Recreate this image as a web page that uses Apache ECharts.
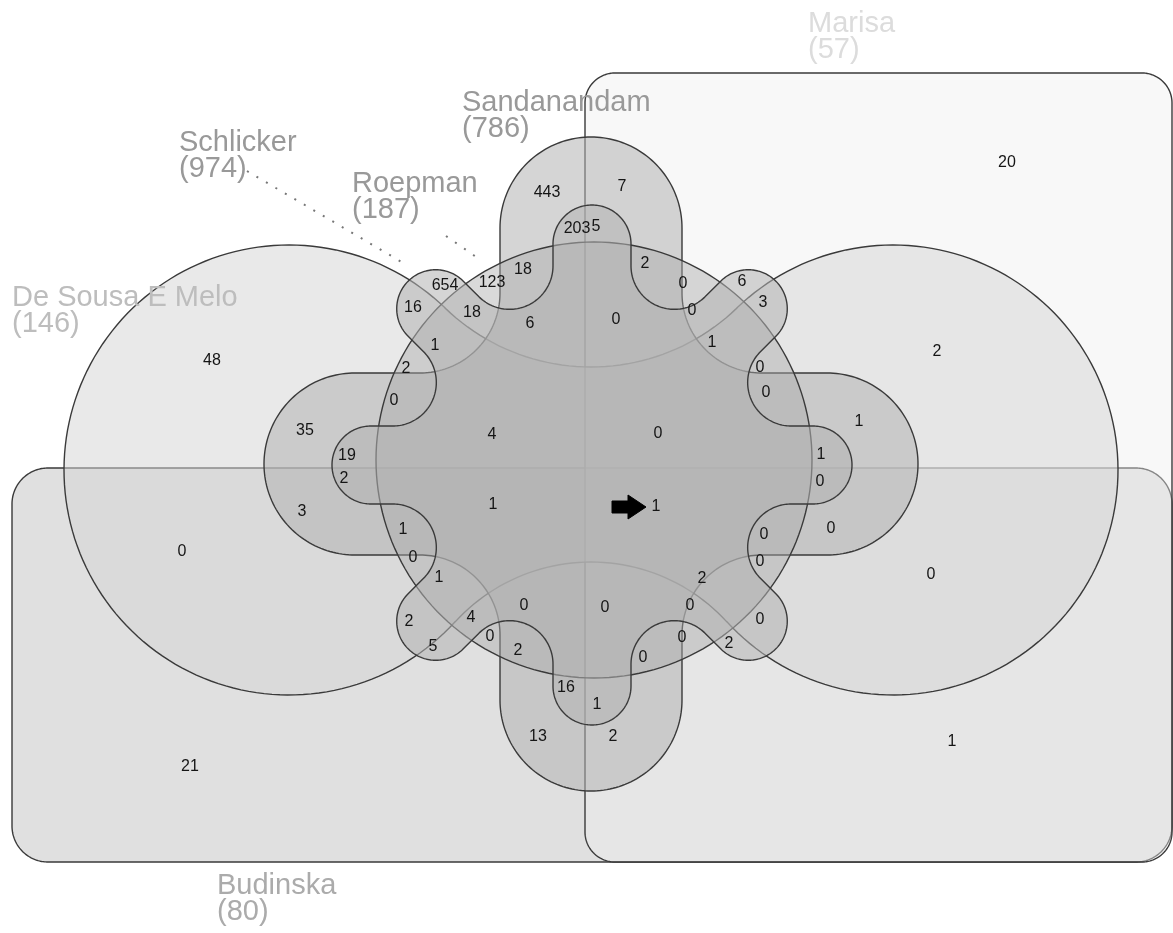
<!DOCTYPE html>
<html>
<head>
<meta charset="utf-8">
<title>Six-set Venn</title>
<script src="https://cdn.jsdelivr.net/npm/echarts@6/dist/echarts.min.js"></script>
<style>
html, body { margin: 0; padding: 0; background: #fff; }
#chart { width: 1173px; height: 933px; }
</style>
</head>
<body>
<div id="chart"></div>
<script>
// sets (drawing order: bottom to top)
const setNames = ['Budinska', 'Marisa', 'De Sousa E Melo', 'Sandanandam', 'Roepman', 'Schlicker'];
const setSizes = [80, 57, 146, 786, 187, 974];

// counts of the 63 regions
const regionCounts = [
  20, 443, 7, 203, 5, 18, 2, 123, 654, 16, 18, 0, 0, 6, 3, 6, 0, 1, 1, 2, 48,
  2, 0, 0, 0, 1, 35, 4, 0, 19, 1, 2, 0, 1, 1, 3, 1, 0, 0, 0, 0, 0, 0, 1, 2,
  0, 0, 0, 4, 2, 0, 0, 0, 2, 5, 2, 0, 16, 1, 13, 2, 1, 21
];

// where each region count is written (layout)
const regionAnchors = [
  [1007, 163], [547, 193], [622, 187], [577, 229], [596, 227], [523, 270], [645, 264],
  [492, 283], [445, 286], [413, 308], [472, 313], [683, 284], [692, 311], [742, 282],
  [763, 303], [530, 324], [616, 320], [435, 346], [712, 343], [937, 352], [212, 361],
  [406, 369], [760, 368], [766, 393], [394, 401], [859, 422], [305, 431], [492, 435],
  [658, 434], [347, 456], [821, 455], [344, 479], [820, 482], [493, 505], [656, 507],
  [302, 512], [403, 530], [831, 529], [764, 535], [182, 552], [413, 558], [760, 562],
  [931, 575], [439, 578], [702, 579], [524, 606], [605, 608], [690, 606], [471, 618],
  [409, 622], [760, 620], [490, 637], [682, 638], [729, 644], [433, 647], [518, 651],
  [643, 658], [566, 688], [597, 705], [538, 737], [613, 737], [952, 742], [190, 767]
];

// set label anchors (top-left of text) and colours
const setLabelAnchors = [[217, 873], [808, 11], [12, 285], [462, 90], [352, 171], [179, 130]];
const setLabelColors = ['#ababab', '#dcdcdc', '#bdbdbd', '#999999', '#999999', '#999999'];

const shapeFills = [
  '#e0e0e0',
  'rgba(238,238,238,0.42)',
  'rgba(212,212,212,0.52)',
  'rgba(178,178,178,0.55)',
  'rgba(170,170,170,0.45)',
  'rgba(178,178,178,0.55)'
];

const FONT = "'Liberation Sans', Arial, Helvetica, sans-serif";

// ---- geometry helpers ----
function arcPts(cx, cy, r, a1, sweep, out) {
  const n = Math.max(6, Math.ceil(Math.abs(sweep) / (Math.PI / 90)));
  for (let i = 0; i <= n; i++) {
    const a = a1 + sweep * i / n;
    out.push([cx + r * Math.cos(a), cy + r * Math.sin(a)]);
  }
}
function sweepThrough(a1, a2, am) {
  const TAU = Math.PI * 2;
  const m = x => ((x % TAU) + TAU) % TAU;
  const s = m(a2 - a1);
  return m(am - a1) <= s ? s : s - TAU;
}
function arcBetween(c, r, p1, p2, pm, out) {
  const a1 = Math.atan2(p1[1] - c[1], p1[0] - c[0]);
  const a2 = Math.atan2(p2[1] - c[1], p2[0] - c[0]);
  const am = Math.atan2(pm[1] - c[1], pm[0] - c[0]);
  arcPts(c[0], c[1], r, a1, sweepThrough(a1, a2, am), out);
}
function roundRect(x1, y1, x2, y2, r) {
  const pts = [];
  arcPts(x2 - r, y1 + r, r, -Math.PI / 2, Math.PI / 2, pts);
  arcPts(x2 - r, y2 - r, r, 0, Math.PI / 2, pts);
  arcPts(x1 + r, y2 - r, r, Math.PI / 2, Math.PI / 2, pts);
  arcPts(x1 + r, y1 + r, r, Math.PI, Math.PI / 2, pts);
  return pts;
}
function circle(cx, cy, r) {
  const pts = [];
  arcPts(cx, cy, r, 0, Math.PI * 2, pts);
  return pts;
}
// n rounded fingers radiating from a centre, inner corners filleted
function fingers(cx, cy, n, w, L, rho, a0) {
  const step = 2 * Math.PI / n, half = step / 2;
  const d = (w + rho) / Math.sin(half);
  const t = d * Math.cos(half);
  const capC = L - w;
  const pts = [];
  for (let k = 0; k < n; k++) {
    const th = a0 + k * step;
    const ux = Math.cos(th), uy = Math.sin(th), vx = -uy, vy = ux;
    pts.push([cx + ux * t - vx * w, cy + uy * t - vy * w]);
    arcPts(cx + ux * capC, cy + uy * capC, w, th - Math.PI / 2, Math.PI, pts);
    const t1 = [cx + ux * t + vx * w, cy + uy * t + vy * w];
    const th2 = th + step;
    const u2x = Math.cos(th2), u2y = Math.sin(th2), v2x = -u2y, v2y = u2x;
    const t2 = [cx + u2x * t - v2x * w, cy + u2y * t - v2y * w];
    const f = [cx + d * Math.cos(th + half), cy + d * Math.sin(th + half)];
    arcBetween(f, rho, t1, t2, [cx, cy], pts);
  }
  return pts;
}
// two big discs joined by concave fillets
function dumbbell(lc, rc, R, up, rUp, dn, rDn) {
  const tp = (c, f) => {
    const dx = f[0] - c[0], dy = f[1] - c[1], l = Math.hypot(dx, dy);
    return [c[0] + R * dx / l, c[1] + R * dy / l];
  };
  const tul = tp(lc, up), tur = tp(rc, up), tdl = tp(lc, dn), tdr = tp(rc, dn);
  const pts = [];
  arcBetween(up, rUp, tul, tur, [up[0], up[1] + 1], pts);
  arcBetween(rc, R, tur, tdr, [rc[0] + 1, rc[1]], pts);
  arcBetween(dn, rDn, tdr, tdl, [dn[0], dn[1] - 1], pts);
  arcBetween(lc, R, tdl, tul, [lc[0] - 1, lc[1]], pts);
  return pts;
}

const shapes = [
  roundRect(12, 468, 1172, 862, 36),
  roundRect(585, 73, 1172, 862, 30),
  dumbbell([289, 470], [893, 470], 225, [591, 157], 210, [591, 746], 184),
  fingers(591, 464, 4, 91, 327, 80, 0),
  circle(594, 460, 218),
  fingers(592, 465, 8, 39, 260, 43.5, 0)
];

const leaderLines = [
  [[247, 171], [405, 264]],
  [[446, 236], [482, 261]]
];
const arrowOutline = [[612, 501], [628, 501], [628, 495], [646, 507], [628, 519], [628, 513], [612, 513]];

const chart = echarts.init(document.getElementById('chart'));

const toPx = (api, pts) => pts.map(p => api.coord(p));

chart.setOption({
  animation: false,
  backgroundColor: '#ffffff',
  grid: { left: 0, right: 0, top: 0, bottom: 0 },
  xAxis: { type: 'value', min: 0, max: 1173, show: false },
  yAxis: { type: 'value', min: 0, max: 933, inverse: true, show: false },
  series: [
    {
      type: 'custom',
      name: 'sets',
      silent: true,
      z: 1,
      data: shapes.map((s, i) => [i, 0]),
      renderItem: (params, api) => ({
        type: 'polygon',
        shape: { points: toPx(api, shapes[params.dataIndex]) },
        style: { fill: shapeFills[params.dataIndex], stroke: '#3a3a3a', lineWidth: 1.4 }
      })
    },
    {
      type: 'custom',
      name: 'leaders',
      silent: true,
      z: 2,
      data: leaderLines.map((l, i) => [i, 0]),
      renderItem: (params, api) => ({
        type: 'polyline',
        shape: { points: toPx(api, leaderLines[params.dataIndex]) },
        style: { stroke: '#777777', lineWidth: 2, lineDash: [2, 9], fill: null }
      })
    },
    {
      type: 'custom',
      name: 'arrow',
      silent: true,
      z: 3,
      data: [[0, 0]],
      renderItem: (params, api) => ({
        type: 'polygon',
        shape: { points: toPx(api, arrowOutline) },
        style: { fill: '#000', stroke: '#000', lineWidth: 1, lineJoin: 'round' }
      })
    },
    {
      type: 'custom',
      name: 'counts',
      silent: true,
      z: 4,
      data: regionCounts.map((c, i) => [regionAnchors[i][0], regionAnchors[i][1], c]),
      renderItem: (params, api) => {
        const p = api.coord([api.value(0), api.value(1)]);
        return {
          type: 'text', x: p[0], y: p[1],
          style: {
            text: String(api.value(2)), fill: '#151515',
            font: '16px ' + FONT, align: 'center', verticalAlign: 'middle'
          }
        };
      }
    },
    {
      type: 'custom',
      name: 'setLabels',
      silent: true,
      z: 5,
      data: setNames.map((n, i) => [setLabelAnchors[i][0], setLabelAnchors[i][1], i]),
      renderItem: (params, api) => {
        const p = api.coord([api.value(0), api.value(1)]);
        const i = api.value(2);
        return {
          type: 'text', x: p[0], y: p[1],
          style: {
            text: setNames[i] + '\n(' + setSizes[i] + ')',
            fill: setLabelColors[i], font: '29px ' + FONT,
            lineHeight: 26, align: 'left', verticalAlign: 'top'
          }
        };
      }
    }
  ]
});
</script>
</body>
</html>
